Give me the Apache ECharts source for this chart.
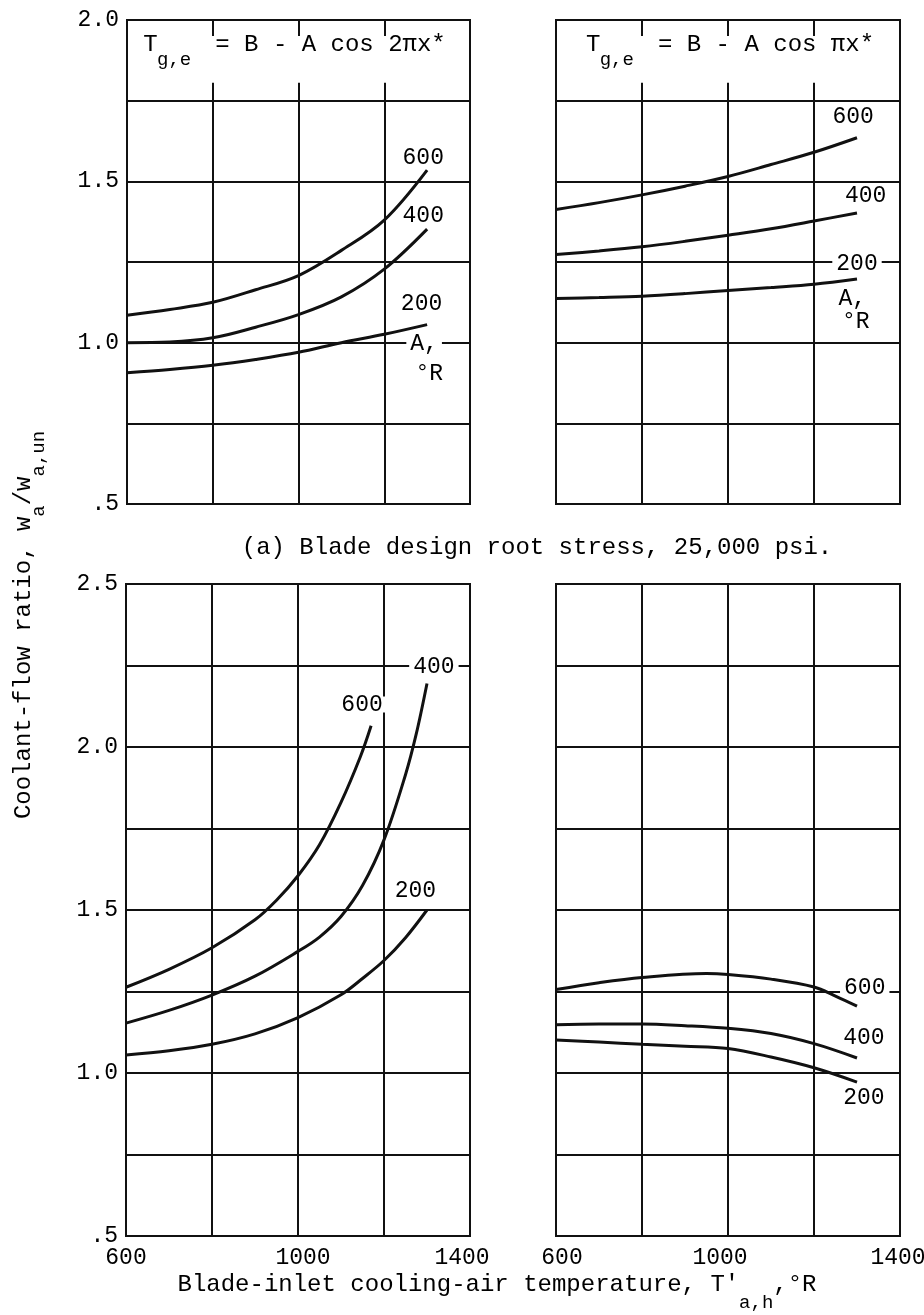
<!DOCTYPE html>
<html>
<head>
<meta charset="utf-8">
<script src="https://cdn.jsdelivr.net/npm/echarts@6/dist/echarts.min.js"></script>
<style>
  html, body { margin: 0; padding: 0; background: #fff; }
  #chart { width: 924px; height: 1315px; }
</style>
</head>
<body>
<div id="chart"></div>
<script>
// Coolant-flow ratio against blade-inlet cooling-air temperature,
// four panels: two gas-temperature distributions (columns) x two cases (rows).

// ---- axis ticks ----
const tempLabelValues = [600, 1000, 1400];
const ratioLabelValues = [0.5, 1.0, 1.5, 2.0, 2.5];
const ratioLabelTexts = ['.5', '1.0', '1.5', '2.0', '2.5'];

// ---- upper left: T = B - A cos 2pi x*  (A = 200, 400, 600 deg R) ----
const ulTemp = [600, 700, 800, 900, 1000, 1100, 1200, 1300];
const ul600 = [1.085, 1.103, 1.125, 1.164, 1.208, 1.286, 1.380, 1.535];
const ul400 = [1.000, 1.002, 1.015, 1.048, 1.087, 1.142, 1.228, 1.352];
const ul200 = [0.907, 0.917, 0.930, 0.948, 0.970, 1.000, 1.026, 1.056];

// ---- upper right: T = B - A cos pi x* ----
const urTemp = [600, 700, 800, 900, 1000, 1100, 1200, 1300];
const ur600 = [1.413, 1.434, 1.458, 1.485, 1.515, 1.552, 1.590, 1.635];
const ur400 = [1.273, 1.284, 1.297, 1.314, 1.333, 1.353, 1.377, 1.402];
const ur200 = [1.137, 1.140, 1.144, 1.152, 1.162, 1.171, 1.181, 1.197];

// ---- lower left ----
const ll600Temp = [600, 700, 800, 900, 950, 1000, 1050, 1100, 1145, 1170];
const ll600 = [1.263, 1.318, 1.384, 1.470, 1.530, 1.605, 1.700, 1.830, 1.970, 2.065];
const ll400Temp = [600, 700, 800, 900, 1000, 1050, 1100, 1150, 1200, 1250, 1275, 1300];
const ll400 = [1.153, 1.192, 1.239, 1.297, 1.373, 1.417, 1.480, 1.575, 1.715, 1.915, 2.040, 2.195];
const ll200Temp = [600, 700, 800, 900, 1000, 1100, 1150, 1200, 1250, 1300];
const ll200 = [1.055, 1.068, 1.088, 1.120, 1.170, 1.240, 1.290, 1.345, 1.415, 1.500];

// ---- lower right ----
const lr600Temp = [600, 700, 800, 950, 1000, 1100, 1200, 1250, 1300];
const lr600 = [1.256, 1.277, 1.293, 1.305, 1.302, 1.288, 1.264, 1.236, 1.205];
const lrTemp = [600, 700, 800, 900, 1000, 1100, 1200, 1300];
const lr400 = [1.148, 1.150, 1.150, 1.145, 1.137, 1.121, 1.090, 1.046];
const lr200 = [1.101, 1.095, 1.088, 1.082, 1.075, 1.049, 1.016, 0.972];

// ---- curve annotations: [temperature, ratio, text] ----
const ulNotes = [[1291, 1.574, '600'], [1291, 1.393, '400'], [1287, 1.12, '200'], [1293, 0.995, 'A,'], [1305, 0.904, '°R']];
const urNotes = [[1291, 1.70, '600'], [1320, 1.454, '400'], [1300, 1.245, '200'], [1289, 1.137, 'A,'], [1297, 1.065, '°R']];
const llNotes = [[1149, 2.13, '600'], [1316, 2.245, '400'], [1273, 1.559, '200']];
const lrNotes = [[1318, 1.262, '600'], [1316, 1.108, '400'], [1316, 0.923, '200']];

// ---- texts ----
const headerLeft = 'T    = B - A cos 2πx*';
const headerRight = 'T    = B - A cos πx*';
const headerSub = 'g,e';
const captionA = '(a) Blade design root stress, 25,000 psi.';
const xTitleMain = "Blade-inlet cooling-air temperature, T'";
const xTitleSub = 'a,h';
const xTitleTail = ',°R';
const yTitleParts = ['Coolant-flow ratio, w', 'a', '/w', 'a,un'];

const MONO = '"Liberation Mono", "DejaVu Sans Mono", monospace';
const INK = '#111';
const FS = 23;       // tick and curve labels
const FT = 24;       // titles
const FSUB = 19;     // subscripts
const pitch = fs => fs * 0.6;

const grids = [
  { left: 127, top: 20, width: 343, height: 484 },
  { left: 556, top: 20, width: 344, height: 484 },
  { left: 126, top: 584, width: 344, height: 652 },
  { left: 556, top: 584, width: 344, height: 652 }
];

// typed tick numbers sit slightly off their grid lines; nudges in px (+ = right)
const tempLabelNudge = [
  { 600: 0, 1000: 5, 1400: -8 },
  { 600: 6, 1000: -8, 1400: -2 }
];

function xAxisFor(i, showLabels, nudge) {
  const rich = {};
  if (nudge) {
    Object.keys(nudge).forEach(k => {
      const d = nudge[k];
      rich['n' + k] = {
        fontFamily: MONO, fontSize: FS, color: '#000',
        padding: d >= 0 ? [0, 0, 0, 2 * d] : [0, -2 * d, 0, 0]
      };
    });
  }
  return {
    type: 'value', gridIndex: i, min: 600, max: 1400, interval: 200,
    axisLine: { show: true, lineStyle: { color: INK, width: 2 } },
    axisTick: { show: false },
    splitLine: { show: true, lineStyle: { color: INK, width: 2 } },
    axisLabel: {
      show: showLabels, margin: 10, fontFamily: MONO, fontSize: FS, color: '#000', rich: rich,
      formatter: v => (tempLabelValues.indexOf(v) >= 0 ? '{n' + v + '|' + v + '}' : '')
    }
  };
}

function yAxisFor(i, max, showLabels) {
  return {
    type: 'value', gridIndex: i, min: 0.5, max: max, interval: 0.25,
    axisLine: { show: true, lineStyle: { color: INK, width: 2 } },
    axisTick: { show: false },
    splitLine: { show: true, lineStyle: { color: INK, width: 2 } },
    axisLabel: {
      show: showLabels, margin: 8, fontFamily: MONO, fontSize: FS, color: '#000',
      formatter: v => {
        const k = ratioLabelValues.findIndex(r => Math.abs(r - v) < 1e-6);
        return k >= 0 ? ratioLabelTexts[k] : '';
      }
    }
  };
}

function curve(i, xs, ys) {
  return {
    type: 'line', xAxisIndex: i, yAxisIndex: i,
    data: xs.map((x, k) => [x, ys[k]]),
    smooth: 0.35, symbol: 'none', showSymbol: false,
    lineStyle: { color: INK, width: 3 }, z: 3, silent: true
  };
}

function notes(i, items) {
  return {
    type: 'scatter', xAxisIndex: i, yAxisIndex: i, data: items,
    symbolSize: 0, z: 5, silent: true,
    itemStyle: { opacity: 1, color: '#000' },
    label: {
      show: true, position: 'inside', formatter: p => p.value[2],
      fontFamily: MONO, fontSize: FS, color: '#000', lineHeight: 16,
      backgroundColor: '#fff', padding: [0, 4]
    }
  };
}

// formula header sitting in the top cell of an upper panel
function header(g, text, dx) {
  const cell = g.height / 6;
  const w = text.length * pitch(FT);
  const x0 = g.left + g.width / 2 + dx - w / 2;
  return [
    { type: 'rect', z: 100, shape: { x: g.left + 4, y: g.top + 16, width: g.width - 8, height: cell - 34 }, style: { fill: '#fff' } },
    { type: 'text', z: 101, x: x0, y: g.top + 25, style: { text: text, font: FT + 'px ' + MONO, fill: '#000', textAlign: 'left', textVerticalAlign: 'middle' } },
    { type: 'text', z: 101, x: x0 + pitch(FT) * 0.95, y: g.top + 40, style: { text: headerSub, font: FSUB + 'px ' + MONO, fill: '#000', textAlign: 'left', textVerticalAlign: 'middle' } }
  ];
}

// axis title along x with a lowered subscript
function xTitle(cx, cy) {
  const w1 = xTitleMain.length * pitch(FT);
  const w2 = xTitleSub.length * pitch(FSUB);
  const w3 = xTitleTail.length * pitch(FT);
  const x0 = cx - (w1 + w2 + w3) / 2;
  const f = FT + 'px ' + MONO, fs = FSUB + 'px ' + MONO;
  return [
    { type: 'text', z: 101, x: x0, y: cy, style: { text: xTitleMain, font: f, fill: '#000', textAlign: 'left', textVerticalAlign: 'middle' } },
    { type: 'text', z: 101, x: x0 + w1, y: cy + 18, style: { text: xTitleSub, font: fs, fill: '#000', textAlign: 'left', textVerticalAlign: 'middle' } },
    { type: 'text', z: 101, x: x0 + w1 + w2, y: cy, style: { text: xTitleTail, font: f, fill: '#000', textAlign: 'left', textVerticalAlign: 'middle' } }
  ];
}

// rotated title along y with subscripts
function yTitle(cx, cy) {
  const sizes = [FT, FSUB, FT, FSUB];
  const widths = yTitleParts.map((t, k) => t.length * pitch(sizes[k]));
  const total = widths.reduce((a, b) => a + b, 0);
  let x = -total / 2;
  const children = yTitleParts.map((t, k) => {
    const el = {
      type: 'text', x: x, y: sizes[k] === FT ? 0 : 15,
      style: { text: t, font: sizes[k] + 'px ' + MONO, fill: '#000', textAlign: 'left', textVerticalAlign: 'middle' }
    };
    x += widths[k];
    return el;
  });
  return { type: 'group', x: cx, y: cy, rotation: Math.PI / 2, z: 101, children: children };
}

const chart = echarts.init(document.getElementById('chart'));

chart.setOption({
  animation: false,
  backgroundColor: '#fff',
  grid: grids.map(g => Object.assign({
    show: true, borderColor: INK, borderWidth: 2, backgroundColor: 'transparent',
    containLabel: false, outerBoundsMode: 'none'
  }, g)),
  xAxis: [xAxisFor(0, false), xAxisFor(1, false), xAxisFor(2, true, tempLabelNudge[0]), xAxisFor(3, true, tempLabelNudge[1])],
  yAxis: [yAxisFor(0, 2.0, true), yAxisFor(1, 2.0, false), yAxisFor(2, 2.5, true), yAxisFor(3, 2.5, false)],
  series: [
    curve(0, ulTemp, ul600), curve(0, ulTemp, ul400), curve(0, ulTemp, ul200),
    curve(1, urTemp, ur600), curve(1, urTemp, ur400), curve(1, urTemp, ur200),
    curve(2, ll600Temp, ll600), curve(2, ll400Temp, ll400), curve(2, ll200Temp, ll200),
    curve(3, lr600Temp, lr600), curve(3, lrTemp, lr400), curve(3, lrTemp, lr200),
    notes(0, ulNotes), notes(1, urNotes), notes(2, llNotes), notes(3, lrNotes)
  ],
  graphic: [
    ...header(grids[0], headerLeft, -4),
    ...header(grids[1], headerRight, 2),
    { type: 'text', z: 101, x: 537, y: 548, style: { text: captionA, font: FT + 'px ' + MONO, fill: '#000', textAlign: 'center', textVerticalAlign: 'middle' } },
    ...xTitle(497, 1285),
    yTitle(24, 625)
  ]
});
</script>
</body>
</html>
